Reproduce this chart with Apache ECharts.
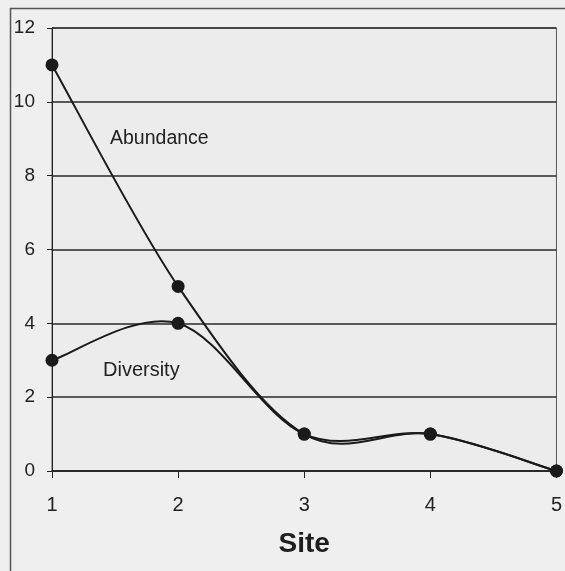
<!DOCTYPE html>
<html><head><meta charset="utf-8">
<script src="https://cdn.jsdelivr.net/npm/echarts@6/dist/echarts.min.js"></script>
<style>html,body{margin:0;padding:0;background:#efefef;}#c{width:565px;height:571px;}</style>
</head><body><div id="c"></div>
<script>
var sites = [1, 2, 3, 4, 5];
var abundance = [11, 5, 1, 1, 0];
var diversity = [3, 4, 1, 1, 0];
var yTicks = [0, 2, 4, 6, 8, 10, 12];

function pairs(xs, ys){ return xs.map(function(x,i){ return [x, ys[i]]; }); }

// Excel-like smoothed line through data points, computed in pixel space via api.coord
function smoothRender(ys){
  return function(params, api){
    var P = sites.map(function(x,i){ return api.coord([x, ys[i]]); });
    var n = P.length, t = 1/6;
    var d = 'M' + P[0][0] + ' ' + P[0][1];
    for (var i = 0; i < n - 1; i++) {
      var p0 = P[Math.max(i-1,0)], p1 = P[i], p2 = P[i+1], p3 = P[Math.min(i+2,n-1)];
      var c1x = p1[0] + (p2[0]-p0[0])*t, c1y = p1[1] + (p2[1]-p0[1])*t;
      var c2x = p2[0] - (p3[0]-p1[0])*t, c2y = p2[1] - (p3[1]-p1[1])*t;
      d += ' C' + c1x + ' ' + c1y + ' ' + c2x + ' ' + c2y + ' ' + p2[0] + ' ' + p2[1];
    }
    return { type: 'path', shape: { pathData: d },
      style: { fill: 'none', stroke: '#1a1a1a', lineWidth: 2 } };
  };
}

var chart = echarts.init(document.getElementById('c'));
var font = 'Liberation Sans, Arial, Helvetica, sans-serif';
chart.setOption({
  backgroundColor: '#efefef',
  animation: false,
  grid: { left: 52, right: 8, top: 28, bottom: 100, show: true, borderColor: '#555', borderWidth: 1, backgroundColor: '#ececec' },
  xAxis: {
    type: 'value', min: 1, max: 5, interval: 1,
    name: 'Site', nameLocation: 'middle', nameGap: 59,
    nameTextStyle: { fontFamily: font, fontSize: 28, fontWeight: 'bold', color: '#1e1e1e' },
    axisLine: { show: true, lineStyle: { color: '#222', width: 1.5 } },
    axisTick: { show: true, length: 7, inside: false, lineStyle: { color: '#222' } },
    axisLabel: { fontFamily: font, fontSize: 20, color: '#222', margin: 24 },
    splitLine: { show: false }
  },
  yAxis: {
    type: 'value', min: 0, max: 12, interval: 2,
    axisLine: { show: true, lineStyle: { color: '#222', width: 1 } },
    axisTick: { show: true, length: 5, lineStyle: { color: '#222' } },
    axisLabel: { fontFamily: font, fontSize: 19, color: '#222', margin: 17,
      formatter: function(v){ return yTicks.indexOf(v) >= 0 ? String(v) : ''; } },
    splitLine: { show: true, lineStyle: { color: '#2a2a2a', width: 1.5 } }
  },
  series: [
    { name: 'Abundance', type: 'custom', renderItem: smoothRender(abundance), data: [[1, 0]], clip: false, z: 3, silent: true },
    { name: 'Diversity', type: 'custom', renderItem: smoothRender(diversity), data: [[1, 0]], clip: false, z: 3, silent: true },
    { name: 'Abundance pts', type: 'scatter', data: pairs(sites, abundance), symbol: 'circle', symbolSize: 13,
      itemStyle: { color: '#1a1a1a', opacity: 1 }, z: 4 },
    { name: 'Diversity pts', type: 'scatter', data: pairs(sites, diversity), symbol: 'circle', symbolSize: 13,
      itemStyle: { color: '#1a1a1a', opacity: 1 }, z: 4 }
  ],
  graphic: [
    { type: 'rect', left: 8, top: 6, shape: { width: 570, height: 580 }, silent: true, z: -1,
      style: { fill: 'none', stroke: '#555', lineWidth: 1.5 } },
    { type: 'text', left: 110, top: 129, style: { text: 'Abundance', font: '19.5px ' + font, fill: '#222' } },
    { type: 'text', left: 103, top: 360, style: { text: 'Diversity', font: '20px ' + font, fill: '#222' } }
  ]
});
</script></body></html>
